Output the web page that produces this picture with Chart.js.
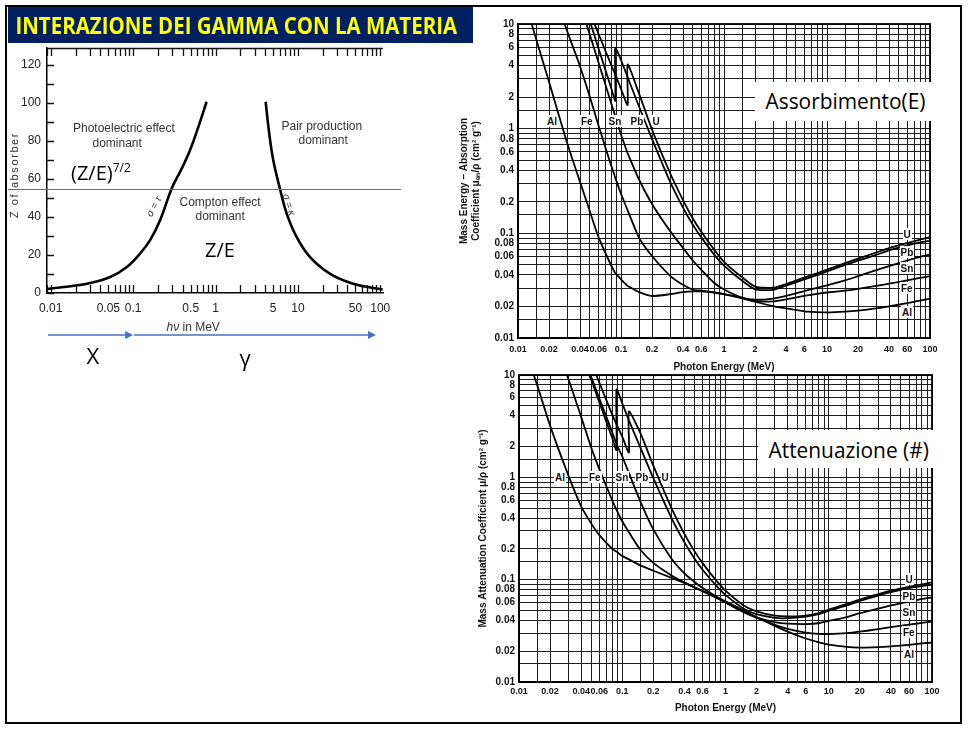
<!DOCTYPE html>
<html lang="it">
<head>
<meta charset="utf-8">
<title>Interazione dei gamma con la materia</title>
<script src="https://cdn.jsdelivr.net/npm/chart.js@4.4.1/dist/chart.umd.min.js"></script>
<style>
  html, body { margin: 0; background: #fff; }
  #slide { position: relative; width: 968px; height: 729px; overflow: hidden; }
  #frame { position: absolute; left: 5px; top: 5px; width: 953px; height: 715px; border: 2px solid #000; }
  .panel { position: absolute; }
  .panel canvas { display: block; }
  .note { position: absolute; white-space: nowrap; line-height: 1; }
  .scan { font: 12px "Liberation Sans", Arial, sans-serif; color: #333; }
  .slidefont { font-family: "Open Sans", "Liberation Sans", sans-serif; color: #000; }
  .tag { font: bold 10px "Liberation Sans", Arial, sans-serif; color: #111; background: #fff; padding: 1px 1px 0; }
  #titlebar { position: absolute; left: 8px; top: 7px; width: 465px; height: 36px; background: #002060; }
  .whitebox { position: absolute; background: #fff; }
</style>
</head>
<body>
<div id="slide">
  <div id="frame"></div>
  <div id="titlebar"></div>
  <div class="panel" style="left:0;top:44px"><canvas id="regions" width="405" height="330"></canvas></div>
  <div class="panel" style="left:455px;top:14px"><canvas id="absorb" width="495" height="362"></canvas></div>
  <div class="panel" style="left:455px;top:368px"><canvas id="atten" width="495" height="355"></canvas></div>
  <div class="whitebox" style="left:755px;top:82px;width:176px;height:39px"></div>
  <div class="whitebox" style="left:758px;top:430px;width:175px;height:38px"></div>
</div>
<script>
// --- left panel: dominant interaction regions (Z vs photon energy, MeV)
const tauEnergy = [0.009, 0.0275, 0.0526, 0.0839, 0.1216, 0.1607, 0.2125, 0.294, 0.39, 0.49, 0.62, 0.78];
const tauZ      = [2.1, 4.9, 8.4, 13.7, 20.8, 27.8, 38.3, 55, 65.6, 75.2, 87.5, 100.7];
const kappaEnergy = [4.06, 4.49, 5.02, 6.05, 7.3, 9.64, 13.97, 24.4, 46.8, 107];
const kappaZ      = [100.7, 84, 70, 55, 41.9, 29.5, 19, 10.2, 4.9, 1.8];
const guideZ = 55;
const xRayLimit = 0.1;
const regionXLabels = ['0.01', '0.05', '0.1', '0.5', '1', '5', '10', '50', '100'];
const regionYLabels = ['0', '20', '40', '60', '80', '100', '120'];

// --- right panels: coefficients in cm2/g vs photon energy (MeV)
const elements = ['Al', 'Fe', 'Sn', 'Pb', 'U'];
const energy = [0.01, 0.015, 0.02, 0.03, 0.04, 0.05, 0.06, 0.08, 0.088, 0.088, 0.1, 0.116, 0.116, 0.15, 0.2, 0.3, 0.4, 0.5, 0.6, 0.8,
                1, 1.5, 2, 3, 4, 6, 8, 10, 15, 20, 30, 40, 60, 80, 100];

const absAl = [27, 7.2, 2.8, 0.73, 0.31, 0.161, 0.094, 0.0496, 0.0416, 0.0416, 0.0364, 0.0314, 0.0314, 0.0274, 0.0252, 0.0262, 0.0274, 0.0279, 0.0279, 0.0272,
               0.0262, 0.024, 0.0222, 0.0202, 0.0192, 0.018, 0.0177, 0.0176, 0.0179, 0.0183, 0.0192, 0.0201, 0.0215, 0.0228, 0.0238];
const absFe = [null, null, 26.7, 8.55, 3.95, 1.99, 1.1, 0.45, 0.34, 0.34, 0.239, 0.166, 0.166, 0.0905, 0.0607, 0.0393, 0.0322, 0.0289, 0.0283, 0.0273,
               0.0262, 0.024, 0.0225, 0.0224, 0.0234, 0.0252, 0.0264, 0.0272, 0.0284, 0.0295, 0.0315, 0.033, 0.0355, 0.0375, 0.039];
const absSn = [null, null, null, null, 15.7, 7.8, 4.4, 1.77, 1.31, 1.31, 0.88, 0.58, 0.58, 0.325, 0.191, 0.105, 0.0726, 0.0547, 0.045, 0.0337,
               0.0291, 0.0243, 0.0232, 0.0238, 0.0252, 0.028, 0.0302, 0.0318, 0.0355, 0.039, 0.0445, 0.0485, 0.055, 0.0595, 0.0625];
const absPb = [null, null, null, null, 21, 10.5, 6.0, 2.47, 1.85, 5.9, 4.53, 3.1, 3.1, 1.62, 0.8, 0.31, 0.176, 0.12, 0.092, 0.063,
               0.0492, 0.0352, 0.0292, 0.0288, 0.0316, 0.0363, 0.0398, 0.0433, 0.0498, 0.0548, 0.0622, 0.0688, 0.0768, 0.0818, 0.0848];
const absU  = [null, null, null, null, null, 12.8, 8.2, 4.1, 3.3, 3.3, 2.4, 1.68, 4.1, 2.15, 0.98, 0.375, 0.208, 0.138, 0.104, 0.07,
               0.0535, 0.038, 0.031, 0.0302, 0.0328, 0.0377, 0.0414, 0.045, 0.052, 0.0574, 0.0656, 0.0722, 0.0808, 0.0872, 0.092];

const attAl = [26.2, 7.96, 3.2, 1.05, 0.52, 0.355, 0.272, 0.2, 0.188, 0.188, 0.17, 0.158, 0.158, 0.1378, 0.1223, 0.1042, 0.0928, 0.0844, 0.0778, 0.0684,
               0.0615, 0.05, 0.0432, 0.0354, 0.0311, 0.0266, 0.0244, 0.0232, 0.022, 0.0217, 0.0219, 0.0223, 0.0231, 0.0238, 0.0243];
const attFe = [null, null, 25.7, 9.2, 3.9, 1.96, 1.205, 0.595, 0.48, 0.48, 0.372, 0.29, 0.29, 0.196, 0.146, 0.11, 0.094, 0.0841, 0.077, 0.0669,
               0.0599, 0.0488, 0.0426, 0.0362, 0.0331, 0.0304, 0.0295, 0.0294, 0.03, 0.031, 0.0328, 0.0343, 0.0364, 0.0378, 0.039];
const attSn = [null, null, null, null, 18, 9.6, 5.9, 2.75, 2.1, 2.1, 1.6, 1.1, 1.1, 0.58, 0.31, 0.16, 0.115, 0.095, 0.083, 0.069,
               0.06, 0.048, 0.0425, 0.0385, 0.0372, 0.0368, 0.0375, 0.0395, 0.043, 0.047, 0.052, 0.056, 0.061, 0.065, 0.067];
const attPb = [null, null, null, null, 14.4, 9.0, 5.4, 2.42, 1.85, 7.2, 5.3, 3.6, 3.6, 1.95, 0.98, 0.4, 0.232, 0.161, 0.125, 0.089,
               0.071, 0.052, 0.046, 0.0423, 0.042, 0.0436, 0.046, 0.0497, 0.056, 0.062, 0.07, 0.0757, 0.0826, 0.0866, 0.089];
const attU  = [null, null, null, null, null, 13.5, 8.4, 4.1, 3.3, 3.3, 2.5, 1.75, 4.4, 2.7, 1.3, 0.5, 0.28, 0.19, 0.145, 0.1,
               0.078, 0.056, 0.049, 0.0445, 0.0437, 0.0446, 0.047, 0.051, 0.058, 0.064, 0.072, 0.078, 0.085, 0.09, 0.094];

const gridXLabels = ['0.01', '0.02', '0.04', '0.06', '0.1', '0.2', '0.4', '0.6', '1', '2', '4', '6', '10', '20', '40', '60', '100'];
const gridYLabels = ['0.01', '0.02', '0.04', '0.06', '0.08', '0.1', '0.2', '0.4', '0.6', '0.8', '1', '2', '4', '6', '8', '10'];
const gridMant = [1, 1.5, 2, 3, 4, 5, 6, 7, 8, 9];

Chart.defaults.font.family = '"Liberation Sans", Arial, sans-serif';
Chart.defaults.color = '#222';
Chart.defaults.animation = false;
Chart.defaults.plugins.legend.display = false;
Chart.defaults.plugins.tooltip.enabled = false;

const pts = (xs, ys) => xs.map((x, i) => ({ x, y: ys[i] }));
const same = (a, b) => Math.abs(a - b) <= Math.abs(b) * 1e-6;
const labelFor = (v, list) => list.find(s => same(v, parseFloat(s))) || '';
function logGrid(lo, hi, mant) {
  const out = [];
  for (let e = Math.floor(Math.log10(lo)); e <= Math.ceil(Math.log10(hi)); e++) {
    mant.forEach(m => {
      const v = parseFloat((m * Math.pow(10, e)).toPrecision(6));
      if (v >= lo * 0.9999 && v <= hi * 1.0001) out.push(v);
    });
  }
  return out;
}
const noPad = s => { s.paddingLeft = s.paddingRight = s.paddingTop = s.paddingBottom = 0; };

// ticks pointing into the plot, plus the top frame line
const innerTicks = {
  id: 'innerTicks',
  afterDatasetsDraw(chart) {
    const { ctx, chartArea: a, scales: { x, y } } = chart;
    ctx.save();
    ctx.strokeStyle = '#111';
    ctx.lineWidth = 1.3;
    ctx.beginPath();
    x.ticks.forEach((t, i) => {
      const px = Math.round(x.getPixelForTick(i)) + 0.5;
      ctx.moveTo(px, a.bottom); ctx.lineTo(px, a.bottom - 8);
      ctx.moveTo(px, a.top); ctx.lineTo(px, a.top + 8);
    });
    y.ticks.forEach((t, i) => {
      const py = Math.round(y.getPixelForTick(i)) + 0.5;
      ctx.moveTo(a.left, py); ctx.lineTo(a.left + 7, py);
    });
    ctx.moveTo(a.left, a.top + 0.5); ctx.lineTo(a.right, a.top + 0.5);
    ctx.stroke();
    ctx.restore();
  }
};

// blue guide at Z = 55 and the X / gamma arrows
const guides = {
  id: 'guides',
  afterDatasetsDraw(chart) {
    const { ctx, chartArea: a, scales: { x, y } } = chart;
    const gy = Math.round(y.getPixelForValue(guideZ)) + 0.5;
    ctx.save();
    ctx.strokeStyle = ctx.fillStyle = '#4472c4';
    ctx.lineWidth = 1.2;
    ctx.beginPath(); ctx.moveTo(8, gy); ctx.lineTo(401, gy); ctx.stroke();
    const ay = 291, xe = x.getPixelForValue(xRayLimit);
    const arrow = (x0, x1) => {
      ctx.lineWidth = 1.5;
      ctx.beginPath(); ctx.moveTo(x0, ay); ctx.lineTo(x1 - 6, ay); ctx.stroke();
      ctx.beginPath(); ctx.moveTo(x1, ay); ctx.lineTo(x1 - 8, ay - 4); ctx.lineTo(x1 - 8, ay + 4); ctx.closePath(); ctx.fill();
    };
    arrow(a.left + 1, xe);
    arrow(xe + 1, 376);
    ctx.restore();
  }
};

const frameBox = {
  id: 'frameBox',
  afterDatasetsDraw(chart) {
    const { ctx, chartArea: a } = chart;
    ctx.save();
    ctx.strokeStyle = '#000';
    ctx.lineWidth = 1.8;
    ctx.strokeRect(a.left, a.top, a.right - a.left, a.bottom - a.top);
    ctx.restore();
  }
};

const scanFont = { family: '"Liberation Sans", Arial, sans-serif', size: 12 };
const curve = { borderColor: '#000', borderWidth: 2.6, pointRadius: 0, tension: 0.4, fill: false };

new Chart(document.getElementById('regions'), {
  type: 'line',
  data: {
    datasets: [
      Object.assign({ label: 'sigma = tau', data: pts(tauEnergy, tauZ) }, curve),
      Object.assign({ label: 'sigma = kappa', data: pts(kappaEnergy, kappaZ) }, curve)
    ]
  },
  options: {
    responsive: false,
    layout: { padding: { top: 4, right: 22, left: 0, bottom: 0 } },
    scales: {
      x: {
        type: 'logarithmic', min: 0.009, max: 108,
        afterBuildTicks: s => { s.ticks = logGrid(0.009, 108, [1, 2, 3, 4, 5, 6, 7, 8, 9]).map(value => ({ value })); },
        afterFit: s => { s.height = 81; noPad(s); },
        grid: { display: false, drawTicks: false },
        border: { display: true, color: '#000', width: 1.5 },
        ticks: { autoSkip: false, maxRotation: 0, padding: 8, font: scanFont, color: '#222',
                 callback: v => labelFor(v, regionXLabels) }
      },
      y: {
        type: 'linear', min: 0, max: 129,
        afterBuildTicks: s => { s.ticks = Array.from({ length: 13 }, (_, i) => ({ value: i * 10 })); },
        afterFit: s => { s.width = 47; noPad(s); },
        grid: { display: false, drawTicks: false },
        border: { display: true, color: '#000', width: 1.5 },
        ticks: { padding: 6, font: scanFont, color: '#222', callback: v => labelFor(v, regionYLabels) }
      }
    }
  },
  plugins: [innerTicks, guides]
});

const xTickFont = { family: '"Liberation Sans Narrow", "Liberation Sans", Arial, sans-serif', size: 9, weight: 'bold' };
const yTickFont = { family: '"Liberation Sans Narrow", "Liberation Sans", Arial, sans-serif', size: 10, weight: 'bold' };
const titleFont = { family: '"Liberation Sans", Arial, sans-serif', size: 10, weight: 'bold' };

function gridChart(id, series, yTitle, cfg) {
  return new Chart(document.getElementById(id), {
    type: 'line',
    data: {
      datasets: series.map((ys, i) => ({
        label: elements[i], data: pts(energy, ys),
        borderColor: '#000', borderWidth: 1.8, pointRadius: 0, tension: 0.2, fill: false
      }))
    },
    options: {
      responsive: false,
      layout: { padding: { top: cfg.padTop, right: cfg.padRight, left: 0, bottom: 0 } },
      scales: {
        x: {
          type: 'logarithmic', min: 0.01, max: 100,
          afterBuildTicks: s => { s.ticks = logGrid(0.01, 100, gridMant).map(value => ({ value })); },
          afterFit: s => { s.height = cfg.xHeight; noPad(s); },
          grid: { color: '#1e1e1e', lineWidth: 1, drawTicks: false },
          border: { color: '#000', width: 1.5 },
          ticks: { autoSkip: false, maxRotation: 0, padding: cfg.xPad, font: xTickFont, color: '#111',
                   callback: v => labelFor(v, gridXLabels) },
          title: { display: true, text: 'Photon Energy (MeV)', font: titleFont, color: '#111',
                   padding: { top: 0, bottom: cfg.xTitlePad } }
        },
        y: {
          type: 'logarithmic', min: 0.01, max: 10,
          afterBuildTicks: s => { s.ticks = logGrid(0.01, 10, gridMant).map(value => ({ value })); },
          afterFit: s => { s.width = cfg.yWidth; noPad(s); },
          grid: { color: '#1e1e1e', lineWidth: 1, drawTicks: false },
          border: { color: '#000', width: 1.5 },
          ticks: { autoSkip: false, padding: 4, font: yTickFont, color: '#111',
                   callback: v => labelFor(v, gridYLabels) },
          title: { display: true, text: yTitle, font: titleFont, color: '#111',
                   padding: { top: cfg.yTitlePad, bottom: 0 } }
        }
      }
    },
    plugins: [frameBox]
  });
}

gridChart('absorb', [absAl, absFe, absSn, absPb, absU],
  ['Mass Energy \u2013 Absorption', 'Coefficient \u03bc\u2091\u2099/\u03c1 (cm\u00b2 g\u207b\u00b9)'],
  { padTop: 10, padRight: 20, xHeight: 38, xPad: 6, xTitlePad: 3, yWidth: 63, yTitlePad: 3 });

gridChart('atten', [attAl, attFe, attSn, attPb, attU],
  'Mass Attenuation Coefficient \u03bc/\u03c1 (cm\u00b2 g\u207b\u00b9)',
  { padTop: 7, padRight: 18, xHeight: 41, xPad: 4, xTitlePad: 9, yWidth: 64, yTitlePad: 22 });

// --- text overlays
const slide = document.getElementById('slide');
function note(html, cx, cy, cls, opt = {}) {
  const d = document.createElement('div');
  d.className = 'note ' + cls;
  d.innerHTML = html;
  if (opt.style) d.style.cssText += opt.style;
  slide.appendChild(d);
  const w = d.offsetWidth, h = d.offsetHeight;
  d.style.left = (cx - w / 2) + 'px';
  d.style.top = (cy - h / 2) + 'px';
  const t = [];
  if (opt.rot) t.push('rotate(' + opt.rot + 'deg)');
  if (opt.width) t.push('scaleX(' + (opt.width / w) + ')');
  if (t.length) d.style.transform = t.join(' ');
  return d;
}

note('INTERAZIONE DEI GAMMA CON LA MATERIA', 236, 25, 'slidefont',
  { width: 442, style: 'font-size:23px;font-weight:bold;color:#ffff00' });

note('Photoelectric effect', 124, 128, 'scan');
note('dominant', 117, 143, 'scan');
note('Pair production', 322, 126, 'scan');
note('dominant', 323, 140, 'scan');
note('Compton effect', 220, 202, 'scan');
note('dominant', 220, 216, 'scan');
note('\u03c3 = \u03c4', 153, 206, 'scan', { rot: -62, style: 'font-size:10px;font-style:italic' });
note('\u03c3 = \u03ba', 289, 204, 'scan', { rot: 72, style: 'font-size:10px;font-style:italic' });
note('Z of absorber', 14, 175, 'scan', { rot: -90, style: 'font-size:11px;letter-spacing:1.6px' });
note('<i>h\u03bd</i> in MeV', 193, 327, 'scan');
note('(Z/E)<span style="font-size:12px;position:relative;top:-8px">7/2</span>', 101, 173, 'slidefont', { style: 'font-size:20px' });
note('Z/E', 220, 250, 'slidefont', { style: 'font-size:20px' });
note('X', 93, 355, 'slidefont', { style: 'font-size:22px' });
note('\u03b3', 245, 357, 'slidefont', { style: 'font-size:22px' });

note('Assorbimento(E)', 845, 101, 'slidefont', { width: 160, style: 'font-size:21px' });
note('Attenuazione (#)', 848, 450, 'slidefont', { width: 160, style: 'font-size:21px' });

const absTagsLeft = [[552, 121], [587, 121], [615, 121], [637, 121], [656, 121]];
const absTagsRight = [[907, 312], [907, 288], [907, 268], [907, 252], [907, 234]];
const attTagsLeft = [[560, 477], [595, 477], [622, 477], [642, 477], [665, 477]];
const attTagsRight = [[909, 654], [909, 632], [909, 612], [909, 596], [909, 579]];
[absTagsLeft, absTagsRight, attTagsLeft, attTagsRight].forEach(set =>
  set.forEach((p, i) => note(elements[i], p[0], p[1], 'tag')));
</script>
</body>
</html>
